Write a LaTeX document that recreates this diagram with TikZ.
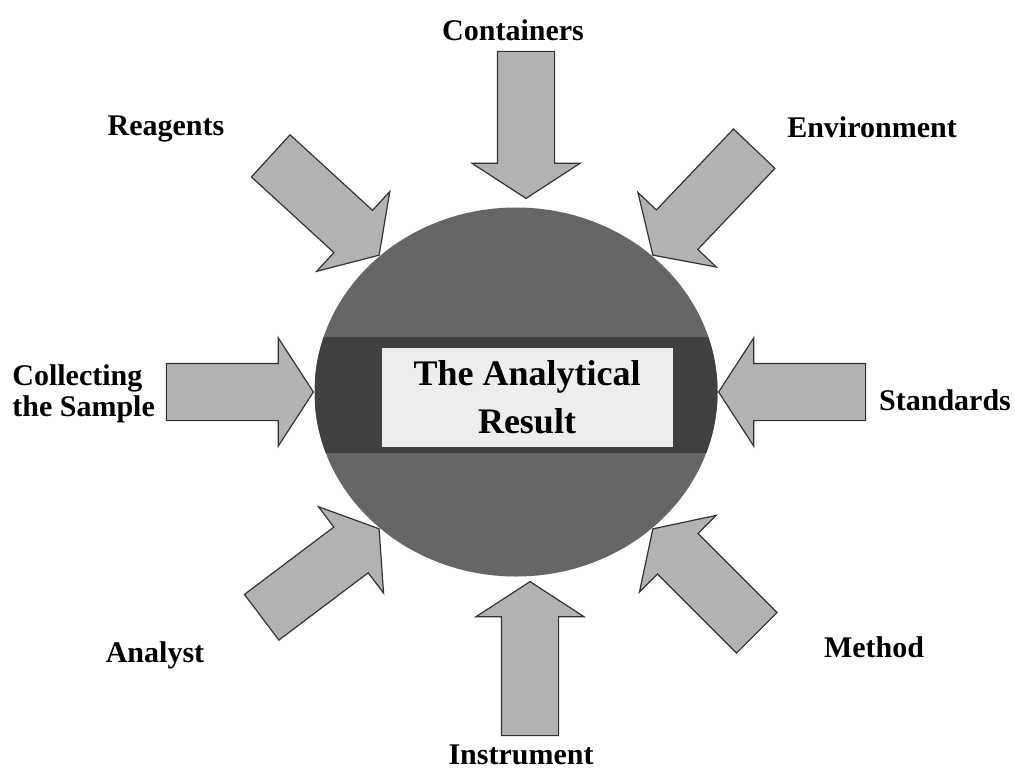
\documentclass[tikz,border=0pt]{standalone}
\usepackage{fontspec}
\setmainfont{Liberation Serif}
\usetikzlibrary{shapes.geometric,shapes.arrows,positioning}
\tikzset{
    inarr/.style={single arrow, draw=black!80, fill=black!30, line width=0.6pt,
                  minimum height=#1, minimum width=53.5pt, inner xsep=0pt, inner ysep=14pt,
                  single arrow head extend=12.75pt, single arrow tip angle=114, anchor=tip},
    inarr/.default=73.5pt,
    lbl/.style={font=\fontsize{15}{15.5}\selectfont\bfseries, inner sep=0pt, anchor=base},
}

\begin{document}
\begin{tikzpicture}[x=0.5pt, y=-0.5pt]
    \useasboundingbox (0,0) rectangle (1015,771);

    % the result in the middle
    \node[ellipse, minimum width=201.5pt, minimum height=184.5pt, inner sep=0pt,
          fill=black!60, path picture={
            \fill[black!75] (path picture bounding box.west) ++(0,-55) rectangle ++(410,116);
          }] (res) at (516,392) {};
    \node[fill=black!7, minimum width=145.5pt, minimum height=49.5pt, inner sep=0pt,
          align=center, font=\fontsize{18}{24}\selectfont\bfseries] (title) at (527,397)
          {The Analytical\\Result};

    % arrows pointing in
    \node[inarr, rotate=-90]    (contarr)  at ([xshift=5pt,yshift=4pt]res.north) {};
    \node[inarr=77pt, rotate=90] (instarr) at ([xshift=7pt,yshift=-2pt]res.south) {};
    \node[inarr]                (collarr)  at (res.west) {};
    \node[inarr, rotate=180]    (stdarr)   at (res.east) {};
    \node[inarr, rotate=-42.5]  (reagarr)  at (res.135) {};
    \node[inarr, rotate=-133.6] (envarr)   at (res.45) {};
    \node[inarr, rotate=37]     (analarr)  at (res.225) {};
    \node[inarr, rotate=135]    (metharr)  at (res.315) {};

    % labels
    \node[lbl] (contl) at (513,40)  {Containers};
    \node[lbl] (reagl) at (166,135) {Reagents};
    \node[lbl] (envl)  at (872,137) {Environment};
    \node[lbl, anchor=base west, align=left] (colll) at (12,416) {Collecting\\the Sample};
    \node[lbl] (stdl)  at (945,410) {Standards};
    \node[lbl] (anall) at (155,662) {Analyst};
    \node[lbl] (methl) at (874,657) {Method};
    \node[lbl] (instl) at (521,764) {Instrument};
\end{tikzpicture}
\end{document}
